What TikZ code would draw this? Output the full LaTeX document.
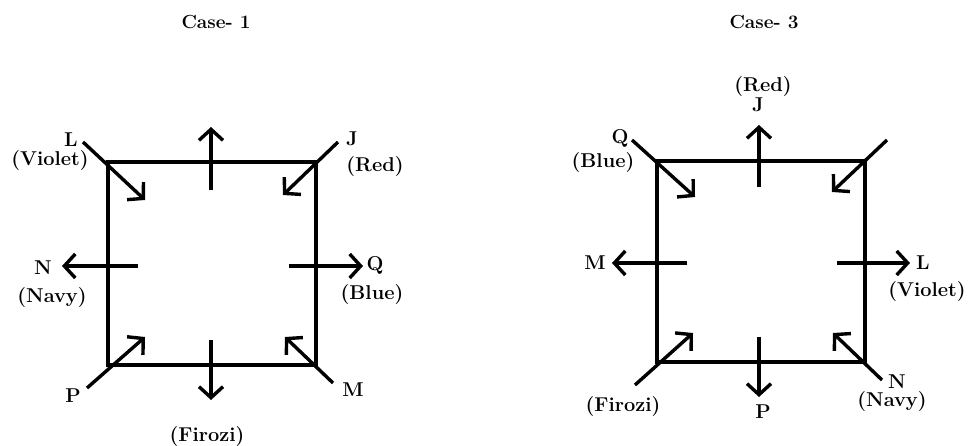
\documentclass[tikz,border=0pt]{standalone}
\usepackage{fontspec}
\usepackage{tikz}
\usetikzlibrary{arrows.meta}

\begin{document}
\begin{tikzpicture}[x=1pt, y=-1pt,
    edge/.style={line width=3.4pt},
    arrow/.style={line width=3.4pt, -{Straight Barb[length=11pt, width=24pt, line width=3.4pt]}},
    lab/.style={font=\fontsize{20}{22}\selectfont\bfseries, inner sep=0pt},
    title/.style={font=\fontsize{19}{21}\selectfont\bfseries, inner sep=0pt}]

    \useasboundingbox (0,0) rectangle (970,446);

    % Case 1
    \node (titleA) [title] at (216,22) {Case- 1};

    \coordinate (a1) at (108,162);
    \coordinate (a2) at (316,162);
    \coordinate (a3) at (316,365);
    \coordinate (a4) at (108,365);
    \draw [edge] (a1) -- (a2) -- (a3) -- (a4) -- cycle;

    \coordinate (aTopS) at (211,190);  \coordinate (aTopE) at (211,127);
    \coordinate (aBotS) at (211,340);  \coordinate (aBotE) at (211,400);
    \coordinate (aLftS) at (138,266);  \coordinate (aLftE) at (62,266);
    \coordinate (aRgtS) at (289,266);  \coordinate (aRgtE) at (363,266);
    \coordinate (aTLS) at (83,142);    \coordinate (aTLE) at (145,200);
    \coordinate (aTRS) at (338,142);   \coordinate (aTRE) at (283,195);
    \coordinate (aBLS) at (87,388);    \coordinate (aBLE) at (145,337);
    \coordinate (aBRS) at (333,383);   \coordinate (aBRE) at (285,337);

    \draw [arrow] (aTopS) -- (aTopE);
    \draw [arrow] (aBotS) -- (aBotE);
    \draw [arrow] (aLftS) -- (aLftE);
    \draw [arrow] (aRgtS) -- (aRgtE);
    \draw [arrow] (aTLS) -- (aTLE);
    \draw [arrow] (aTRS) -- (aTRE);
    \draw [arrow] (aBLS) -- (aBLE);
    \draw [arrow] (aBRS) -- (aBRE);

    \node (aL) [lab] at (71,140) {L};
    \node (aViolet) [lab] at (50,161) {(Violet)};
    \node (aJ) [lab] at (352,139) {J};
    \node (aRed) [lab] at (375,167) {(Red)};
    \node (aN) [lab] at (43,268) {N};
    \node (aNavy) [lab] at (52,298) {(Navy)};
    \node (aQ) [lab] at (375,265) {Q};
    \node (aBlue) [lab] at (372,295) {(Blue)};
    \node (aP) [lab] at (73,396) {P};
    \node (aM) [lab] at (353,390) {M};
    \node (aFirozi) [lab] at (207,437) {(Firozi)};

    % Case 3
    \node (titleB) [title] at (764,22) {Case- 3};

    \coordinate (b1) at (657,161);
    \coordinate (b2) at (865,161);
    \coordinate (b3) at (865,362);
    \coordinate (b4) at (657,362);
    \draw [edge] (b1) -- (b2) -- (b3) -- (b4) -- cycle;

    \coordinate (bTopS) at (759,187);  \coordinate (bTopE) at (759,125);
    \coordinate (bBotS) at (759,337);  \coordinate (bBotE) at (759,397);
    \coordinate (bLftS) at (687,263);  \coordinate (bLftE) at (612,263);
    \coordinate (bRgtS) at (837,263);  \coordinate (bRgtE) at (910,263);
    \coordinate (bTLS) at (632,140);   \coordinate (bTLE) at (695,197);
    \coordinate (bTRS) at (887,140);   \coordinate (bTRE) at (832,192);
    \coordinate (bBLS) at (635,385);   \coordinate (bBLE) at (693,333);
    \coordinate (bBRS) at (882,380);   \coordinate (bBRE) at (833,333);

    \draw [arrow] (bTopS) -- (bTopE);
    \draw [arrow] (bBotS) -- (bBotE);
    \draw [arrow] (bLftS) -- (bLftE);
    \draw [arrow] (bRgtS) -- (bRgtE);
    \draw [arrow] (bTLS) -- (bTLE);
    \draw [arrow] (bTRS) -- (bTRE);
    \draw [arrow] (bBLS) -- (bBLE);
    \draw [arrow] (bBRS) -- (bBRE);

    \node (bRed) [lab] at (763,87) {(Red)};
    \node (bJ) [lab] at (758,105) {J};
    \node (bQ) [lab] at (620,138) {Q};
    \node (bBlue) [lab] at (603,163) {(Blue)};
    \node (bM) [lab] at (595,263) {M};
    \node (bL) [lab] at (923,263) {L};
    \node (bViolet) [lab] at (927,292) {(Violet)};
    \node (bFirozi) [lab] at (623,407) {(Firozi)};
    \node (bP) [lab] at (763,412) {P};
    \node (bN) [lab] at (897,382) {N};
    \node (bNavy) [lab] at (892,402) {(Navy)};

\end{tikzpicture}
\end{document}
